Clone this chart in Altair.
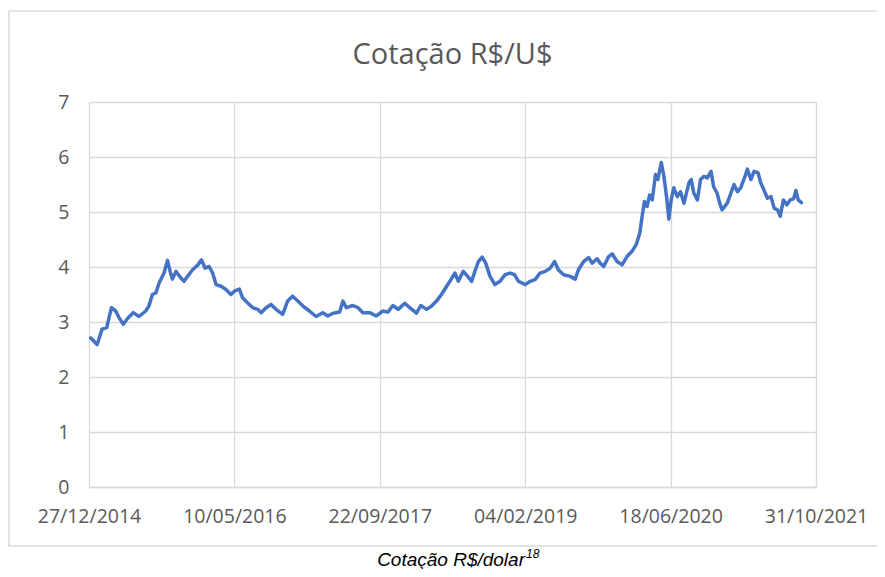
import altair as alt
import pandas as pd

dates = [
    "2015-01-02", "2015-01-24", "2015-02-10", "2015-02-26", "2015-03-14", "2015-03-29", "2015-04-09", "2015-04-24", "2015-05-08", "2015-05-28",
    "2015-06-17", "2015-07-10", "2015-07-21", "2015-08-02", "2015-08-14", "2015-08-25", "2015-09-11", "2015-09-23", "2015-10-02", "2015-10-10",
    "2015-10-22", "2015-11-08", "2015-11-19", "2015-12-01", "2015-12-18", "2016-01-04", "2016-01-18", "2016-01-30", "2016-02-13", "2016-02-25",
    "2016-03-08", "2016-03-25", "2016-04-11", "2016-04-28", "2016-05-10", "2016-05-27", "2016-06-07", "2016-06-24", "2016-07-12", "2016-07-29",
    "2016-08-10", "2016-08-27", "2016-09-13", "2016-09-30", "2016-10-23", "2016-11-09", "2016-11-26", "2016-12-14", "2017-01-01", "2017-01-23",
    "2017-02-15", "2017-03-10", "2017-03-27", "2017-04-14", "2017-05-07", "2017-05-18", "2017-05-30", "2017-06-21", "2017-07-09", "2017-07-26",
    "2017-08-18", "2017-09-10", "2017-10-03", "2017-10-20", "2017-11-06", "2017-11-24", "2017-12-17", "2018-01-03", "2018-01-26", "2018-02-10",
    "2018-03-02", "2018-03-19", "2018-04-05", "2018-04-22", "2018-05-10", "2018-05-21", "2018-06-07", "2018-06-19", "2018-07-06", "2018-07-21",
    "2018-08-04", "2018-08-15", "2018-08-27", "2018-09-09", "2018-09-21", "2018-10-06", "2018-10-23", "2018-11-09", "2018-11-27", "2018-12-14",
    "2018-12-29", "2019-01-12", "2019-02-04", "2019-02-21", "2019-03-10", "2019-03-27", "2019-04-14", "2019-05-01", "2019-05-16", "2019-05-29",
    "2019-06-16", "2019-07-09", "2019-07-26", "2019-08-06", "2019-08-24", "2019-09-10", "2019-09-22", "2019-10-09", "2019-10-20", "2019-11-01",
    "2019-11-18", "2019-11-30", "2019-12-17", "2020-01-03", "2020-01-20", "2020-02-07", "2020-02-21", "2020-03-04", "2020-03-12", "2020-03-20",
    "2020-03-29", "2020-04-07", "2020-04-16", "2020-04-27", "2020-05-05", "2020-05-17", "2020-05-26", "2020-06-04", "2020-06-12", "2020-06-20",
    "2020-06-29", "2020-07-11", "2020-07-22", "2020-08-03", "2020-08-20", "2020-08-28", "2020-09-06", "2020-09-18", "2020-09-29", "2020-10-11",
    "2020-10-22", "2020-11-04", "2020-11-13", "2020-11-25", "2020-12-04", "2020-12-12", "2020-12-30", "2021-01-11", "2021-01-22", "2021-02-03",
    "2021-02-14", "2021-03-03", "2021-03-09", "2021-03-21", "2021-04-01", "2021-04-15", "2021-04-24", "2021-05-05", "2021-05-17", "2021-05-29",
    "2021-06-09", "2021-06-21", "2021-06-30", "2021-07-11", "2021-07-23", "2021-08-03", "2021-08-15", "2021-08-23", "2021-08-31", "2021-09-11",
]

cotacao = [
    2.71, 2.59, 2.87, 2.90, 3.26, 3.20, 3.08, 2.96, 3.06, 3.17,
    3.10, 3.20, 3.29, 3.50, 3.53, 3.71, 3.89, 4.12, 3.92, 3.78,
    3.92, 3.80, 3.74, 3.83, 3.95, 4.03, 4.13, 3.98, 4.01, 3.89,
    3.68, 3.65, 3.59, 3.50, 3.56, 3.60, 3.44, 3.35, 3.26, 3.23,
    3.17, 3.26, 3.32, 3.23, 3.14, 3.38, 3.47, 3.38, 3.29, 3.20,
    3.10, 3.17, 3.11, 3.16, 3.18, 3.38, 3.26, 3.30, 3.26, 3.17,
    3.17, 3.11, 3.20, 3.18, 3.30, 3.23, 3.34, 3.26, 3.16, 3.30,
    3.23, 3.29, 3.38, 3.50, 3.65, 3.74, 3.89, 3.74, 3.92, 3.83,
    3.74, 3.92, 4.10, 4.18, 4.07, 3.83, 3.68, 3.74, 3.86, 3.89,
    3.86, 3.74, 3.68, 3.74, 3.77, 3.89, 3.92, 3.98, 4.10, 3.95,
    3.86, 3.83, 3.78, 3.95, 4.10, 4.17, 4.07, 4.15, 4.07, 4.01,
    4.19, 4.24, 4.10, 4.04, 4.19, 4.29, 4.41, 4.62, 4.92, 5.19,
    5.10, 5.31, 5.22, 5.68, 5.59, 5.90, 5.65, 5.28, 4.87, 5.22,
    5.44, 5.28, 5.37, 5.16, 5.53, 5.59, 5.34, 5.22, 5.59, 5.65,
    5.62, 5.74, 5.46, 5.34, 5.16, 5.04, 5.16, 5.34, 5.50, 5.37,
    5.44, 5.68, 5.78, 5.59, 5.74, 5.71, 5.53, 5.40, 5.25, 5.28,
    5.07, 5.04, 4.92, 5.22, 5.13, 5.22, 5.24, 5.39, 5.22, 5.17,
]

tick_dates = ["2014-12-27", "2016-05-10", "2017-09-22", "2019-02-04", "2020-06-18", "2021-10-31"]
y_ticks = [0, 1, 2, 3, 4, 5, 6, 7]

title_text = "Cotação R$/U$"
caption_text = "Cotação R$/dolar"
caption_sup = "18"

df = pd.DataFrame({"data": dates, "cotacao": cotacao})
tick_ms = [int(pd.Timestamp(d).value // 10**6) for d in tick_dates]

GRID = "#d9d9d9"
LABEL = "#595959"
FONT = "Open Sans"

line = alt.Chart(df).mark_line(
    color="#4472C4", strokeWidth=3.5, strokeJoin="round", strokeCap="round"
).encode(
    x=alt.X(
        "data:T",
        scale=alt.Scale(type="utc", domain=[tick_ms[0], tick_ms[-1]]),
        axis=alt.Axis(
            values=tick_ms,
            labelExpr="utcFormat(datum.value, '%d/%m/%Y')",
            title=None,
            grid=True,
            gridColor=GRID,
            gridWidth=1.3,
            domain=True,
            domainColor=GRID,
            domainWidth=1.3,
            ticks=False,
            tickSize=0,
            labelPadding=20,
            labelFont=FONT,
            labelFontSize=19.5,
            labelColor=LABEL,
            labelOverlap=False,
            labelFlush=False,
        ),
    ),
    y=alt.Y(
        "cotacao:Q",
        scale=alt.Scale(domain=[0, 7], nice=False),
        axis=alt.Axis(
            values=y_ticks,
            title=None,
            grid=True,
            gridColor=GRID,
            gridWidth=1.3,
            domain=False,
            ticks=False,
            tickSize=0,
            labelPadding=20,
            labelFont=FONT,
            labelFontSize=19.5,
            labelColor=LABEL,
        ),
    ),
)

one = pd.DataFrame({"k": [0]})

frame = alt.Chart(one).mark_rect(
    fillOpacity=0, stroke=GRID, strokeWidth=1.5
).encode(
    x=alt.value(-80), x2=alt.value(801), y=alt.value(-91), y2=alt.value(444)
)

title = alt.Chart(pd.DataFrame({"t": [title_text]})).mark_text(
    font=FONT, fontSize=29, color=LABEL, baseline="middle", align="center"
).encode(text="t:N", x=alt.value(363.5), y=alt.value(-47))

caption = alt.Chart(pd.DataFrame({"t": [caption_text]})).mark_text(
    font="Liberation Sans", fontSize=19, fontStyle="italic", color="black",
    baseline="alphabetic", align="right"
).encode(text="t:N", x=alt.value(436), y=alt.value(464))

sup = alt.Chart(pd.DataFrame({"t": [caption_sup]})).mark_text(
    font="Liberation Sans", fontSize=12, fontStyle="italic", color="black",
    baseline="alphabetic", align="left"
).encode(text="t:N", x=alt.value(437), y=alt.value(456))

chart = alt.layer(frame, line, title, caption, sup).properties(
    width=727,
    height=385,
    autosize=alt.AutoSizeParams(type="none"),
    padding={"left": 81, "top": 94, "right": 61, "bottom": 82},
    background="white",
).configure_view(stroke=None)

chart.save("out.html", embed_options={"renderer": "svg", "actions": False})
